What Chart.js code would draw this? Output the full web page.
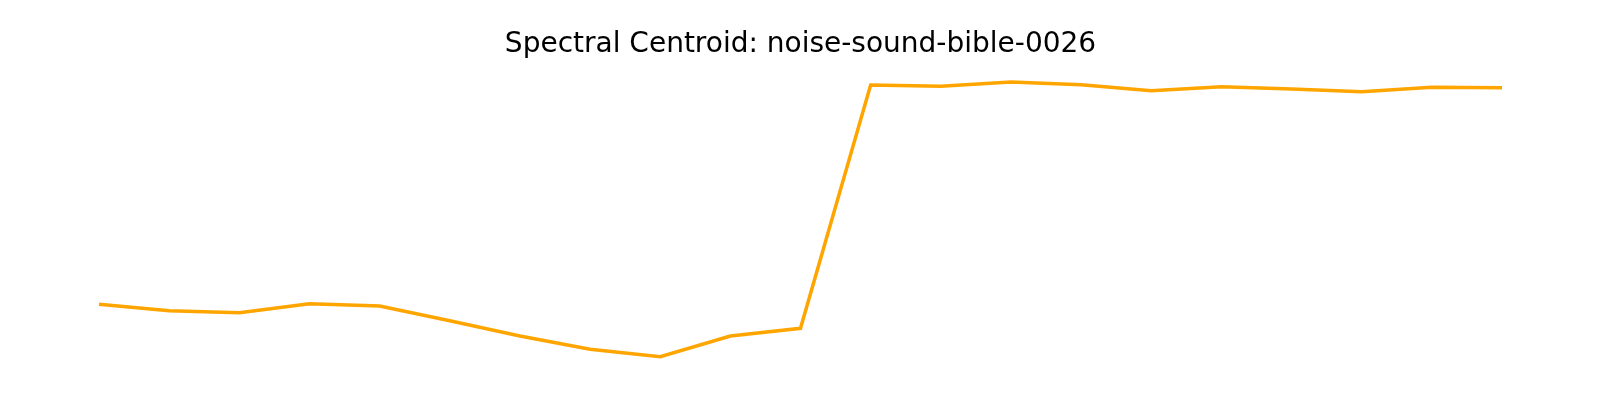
<!DOCTYPE html>
<html>
<head>
<meta charset="utf-8">
<script src="https://cdn.jsdelivr.net/npm/chart.js@4"></script>
<style>
  body { margin: 0; background: #fff; }
  #chart-wrap { width: 1600px; height: 400px; }
</style>
</head>
<body>
<div id="chart-wrap"><canvas id="centroidChart" width="1600" height="400"></canvas></div>
<script>
// frame index and spectral centroid (arbitrary units)
const frames = [0, 1, 2, 3, 4, 5, 6, 7, 8, 9, 10, 11, 12, 13, 14, 15, 16, 17, 18, 19, 20];
const centroid = [95.7, 89.3, 87.3, 96.3, 94, 79.3, 64, 50.7, 43.3, 64, 71.7,
                  315, 313.7, 318, 315.3, 309.3, 313.3, 311, 308.3, 312.7, 312.3];
const titleText = 'Spectral Centroid: noise-sound-bible-0026';

document.addEventListener('DOMContentLoaded', () => {
    const ctx = document.getElementById('centroidChart').getContext('2d');
    new Chart(ctx, {
        type: 'line',
        data: {
            labels: frames,
            datasets: [{
                data: centroid,
                borderColor: '#ffa500',
                borderWidth: 3.5,
                pointRadius: 0,
                tension: 0,
                fill: false
            }]
        },
        options: {
            responsive: false,
            animation: false,
            layout: { padding: { left: 99, right: 98, top: 0, bottom: 20 } },
            plugins: {
                legend: { display: false },
                tooltip: { enabled: false },
                title: {
                    display: true,
                    text: titleText,
                    color: '#000',
                    font: { family: 'DejaVu Sans', size: 28, weight: 'normal', lineHeight: 1.2 },
                    padding: { top: 28, bottom: 0 }
                }
            },
            scales: {
                x: { display: false },
                y: { display: false, min: 20, max: 338.4 }
            }
        }
    });
});
</script>
</body>
</html>
